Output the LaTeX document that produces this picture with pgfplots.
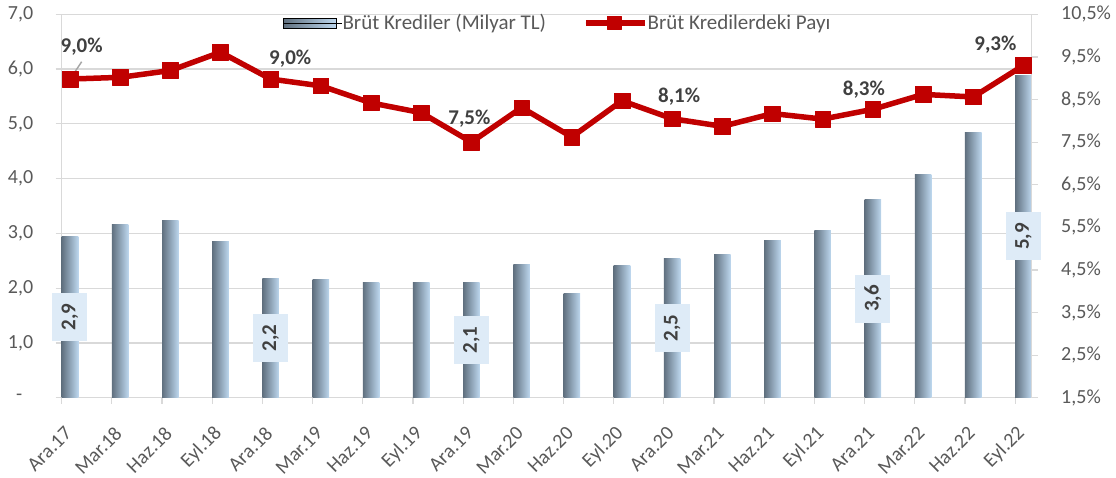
\documentclass[border=0pt]{standalone}
\usepackage{fontspec}
\setmainfont{Carlito}
\usepackage{pgfplots}
\pgfplotsset{compat=1.18}
\definecolor{gridgray}{HTML}{D9D9D9}
\definecolor{labelgray}{HTML}{595959}
\definecolor{darklabel}{HTML}{404040}
\definecolor{redline}{HTML}{C00000}
\definecolor{boxblue}{HTML}{DEEBF7}
\definecolor{barleft}{HTML}{60707F}
\definecolor{barright}{HTML}{BDD7EE}
\definecolor{leader}{HTML}{A6A6A6}
\tikzset{
  lbl/.style={font=\fontsize{21}{24}\selectfont\bfseries, text=darklabel, inner sep=0pt},
  box/.style={fill=boxblue, rotate=90, minimum width=48pt, minimum height=35pt,
    inner sep=0pt, font=\fontsize{21}{24}\selectfont\bfseries, text=darklabel}
}
\pgfplotsset{
  common/.style={at={(0pt,0pt)}, anchor=south west, scale only axis,
    width=970pt, height=383.4pt, xmin=-0.165, xmax=19.165, clip=false,
    tick label style={font=\fontsize{20}{24}\selectfont, text=labelgray},
    major tick length=6pt, tick style={draw=gridgray, line width=1.2pt},
    tick align=outside,
    axis line style={-, draw=gridgray, line width=1.2pt}},
  barst/.style={ybar, bar width=0.33, bar shift=0pt, draw=none,
    left color=barleft, right color=barright, forget plot},
  barlegend/.style={legend image code/.code={\path[left color=barleft, right color=barright] (0pt,-5pt) rectangle (53pt,5pt); \path (0pt,0pt) -- (59pt,0pt);}},
  redlegend/.style={legend image code/.code={\path (0pt,0pt) -- (59pt,0pt); \draw[##1, line cap=round, mark size=6.6pt, mark repeat=2, mark phase=2] plot coordinates {(2.75pt,0pt) (28.5pt,0pt) (54.25pt,0pt)};}}
}
\begin{document}
\begin{tikzpicture}
\path[use as bounding box] (-61.7pt,-79.3pt) rectangle (1054.3pt,397.7pt);
\begin{axis}[common,
  axis x line*=bottom, axis y line*=left,
  ymin=0, ymax=7, ytick={0,1,2,3,4,5,6,7},
  yticklabels={{-\hspace*{11pt}},{1,0},{2,0},{3,0},{4,0},{5,0},{6,0},{7,0}},
  ymajorgrids, grid style={draw=gridgray, line width=1.2pt},
  xtick={-0.165,0.835,1.835,2.835,3.835,4.835,5.835,6.835,7.835,8.835,9.835,10.835,11.835,12.835,13.835,14.835,15.835,16.835,17.835,18.835},
  xticklabels={Ara.17,Mar.18,Haz.18,Eyl.18,Ara.18,Mar.19,Haz.19,Eyl.19,Ara.19,Mar.20,Haz.20,Eyl.20,Ara.20,Mar.21,Haz.21,Eyl.21,Ara.21,Mar.22,Haz.22,Eyl.22},
  xticklabel style={xshift=9pt, yshift=-24pt, rotate=45, anchor=east},
  yticklabel style={xshift=-19pt},
]
% Brüt Krediler (Milyar TL), one bar per quarter
\addplot[barst] coordinates {(0,2.94)};
\addplot[barst] coordinates {(1,3.16)};
\addplot[barst] coordinates {(2,3.23)};
\addplot[barst] coordinates {(3,2.85)};
\addplot[barst] coordinates {(4,2.17)};
\addplot[barst] coordinates {(5,2.15)};
\addplot[barst] coordinates {(6,2.11)};
\addplot[barst] coordinates {(7,2.11)};
\addplot[barst] coordinates {(8,2.10)};
\addplot[barst] coordinates {(9,2.43)};
\addplot[barst] coordinates {(10,1.91)};
\addplot[barst] coordinates {(11,2.41)};
\addplot[barst] coordinates {(12,2.54)};
\addplot[barst] coordinates {(13,2.61)};
\addplot[barst] coordinates {(14,2.87)};
\addplot[barst] coordinates {(15,3.05)};
\addplot[barst] coordinates {(16,3.62)};
\addplot[barst] coordinates {(17,4.07)};
\addplot[barst] coordinates {(18,4.85)};
\addplot[barst] coordinates {(19,5.89)};
\end{axis}
\begin{axis}[common,
  axis x line=none, axis y line*=right,
  ymin=1.5, ymax=10.5,
  ytick={1.5,2.5,3.5,4.5,5.5,6.5,7.5,8.5,9.5,10.5},
  yticklabels={{1,5\%},{2,5\%},{3,5\%},{4,5\%},{5,5\%},{6,5\%},{7,5\%},{8,5\%},{9,5\%},{10,5\%}},
  yticklabel style={xshift=20pt},
  legend style={at={(axis description cs:0.2281,0.9773)}, anchor=west, draw=none, fill=none,
    inner sep=0pt, font=\fontsize{21}{24}\selectfont, text=labelgray,
    nodes={inner sep=0pt},
    /tikz/every odd column/.append style={column sep=0pt},
    /tikz/every even column/.append style={column sep=37pt}},
  legend columns=2,
]
\addlegendimage{barlegend}
\addlegendentry{Brüt Krediler (Milyar TL)}
\addplot[redline, line width=5.5pt, line join=round, mark=square*, mark size=7.8pt,
  mark options={solid, line width=0.5pt, fill=redline, draw=redline}, redlegend]
 coordinates {(0,8.98) (1,9.02) (2,9.18) (3,9.61) (4,8.98) (5,8.82) (6,8.42) (7,8.19) (8,7.50) (9,8.31) (10,7.62) (11,8.47) (12,8.05) (13,7.87) (14,8.17) (15,8.04) (16,8.27) (17,8.62) (18,8.56) (19,9.30)};
\addlegendentry{Brüt Kredilerdeki Payı}
\draw[leader, line width=1.5pt] (axis cs:0.014,8.998) -- (axis cs:0.233,9.387);
\node[lbl, xshift=11.7pt, yshift=32pt] at (axis cs:0,8.98) {9,0\%};
\node[lbl, xshift=19.5pt, yshift=20pt] at (axis cs:4,8.98) {9,0\%};
\node[lbl, xshift=-2pt, yshift=23.4pt] at (axis cs:8,7.50) {7,5\%};
\node[lbl, xshift=7pt, yshift=21.7pt] at (axis cs:12,8.05) {8,1\%};
\node[lbl, xshift=-9pt, yshift=20pt] at (axis cs:16,8.27) {8,3\%};
\node[lbl, xshift=-28pt, yshift=20.7pt] at (axis cs:19,9.30) {9,3\%};
% bar value boxes (left-axis value/2 converted to the right axis)
\node[box] at (axis cs:0,3.39) {2,9};
\node[box] at (axis cs:4,2.895) {2,2};
\node[box] at (axis cs:8,2.85) {2,1};
\node[box] at (axis cs:12,3.133) {2,5};
\node[box] at (axis cs:16,3.827) {3,6};
\node[box] at (axis cs:19,5.286) {5,9};
\end{axis}
\end{tikzpicture}
\end{document}
